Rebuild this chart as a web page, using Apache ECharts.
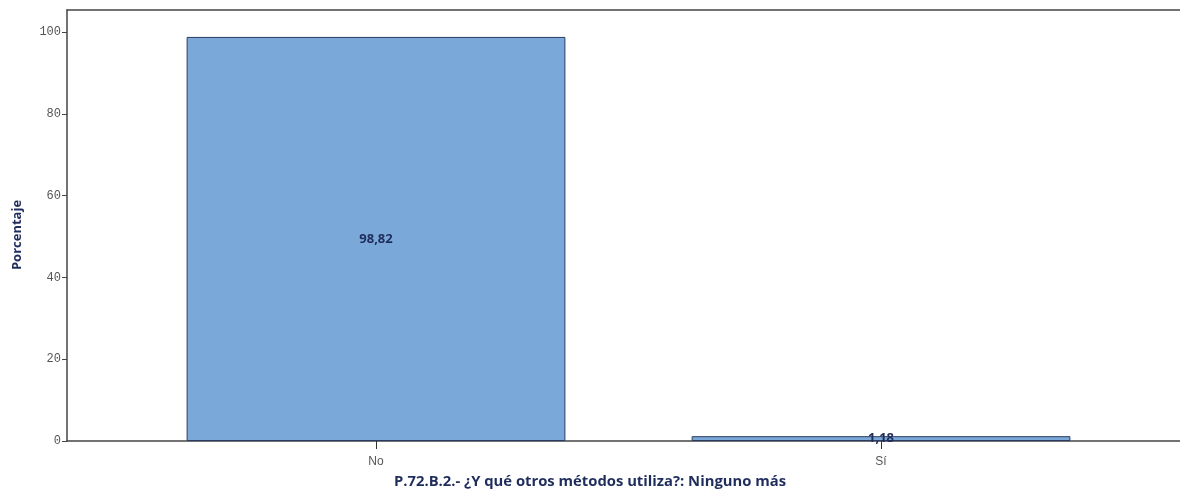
<!DOCTYPE html>
<html>
<head>
<meta charset="utf-8">
<script src="https://cdn.jsdelivr.net/npm/echarts@6/dist/echarts.min.js"></script>
<style>html,body{margin:0;padding:0;background:#fff;}#c{width:1180px;height:498px;}</style>
</head>
<body>
<div id="c"></div>
<script>
const categories = ['No', 'Sí'];
const values = [98.82, 1.18];
const valueLabels = ['98,82', '1,18'];
const yTickValues = [0, 20, 40, 60, 80, 100];
const yAxisTitle = 'Porcentaje';
const xAxisTitle = 'P.72.B.2.- ¿Y qué otros métodos utiliza?: Ninguno más';

const Y_MAX = 105.4;
const chart = echarts.init(document.getElementById('c'), null, {renderer: 'canvas'});
chart.setOption({
  animation: false,
  title: {
    text: xAxisTitle, left: 'center', top: 469,
    textStyle: {fontFamily: 'Open Sans', fontSize: 14.8, fontWeight: 'bold', color: '#1f2d5c'}
  },
  graphic: [{
    type: 'text', x: 17, y: 235, rotation: Math.PI / 2,
    style: {text: yAxisTitle, fontFamily: 'Open Sans', fontSize: 13, fontWeight: 'bold', fill: '#1f2d5c',
      align: 'center', verticalAlign: 'middle'},
    originX: 0, originY: 0
  }],
  grid: [
    {left: 67, right: -20, top: 10, bottom: 57, outerBoundsMode: 'none'},
    {left: 123.5, right: 46.5, top: 10, bottom: 57, outerBoundsMode: 'none'}
  ],
  xAxis: [
    {gridIndex: 0, type: 'value', min: 0, max: 1, position: 'bottom', axisLine: {show: true, lineStyle: {color: '#444', width: 1.5}}, axisTick: {show: false}, axisLabel: {show: false}, splitLine: {show: false}},
    {gridIndex: 1, type: 'category', data: categories, axisLine: {show: false},
     axisTick: {show: true, alignWithLabel: true, length: 8, lineStyle: {color: '#333'}},
     axisLabel: {color: '#555', fontFamily: 'Liberation Sans', fontSize: 12, margin: 15}},
    {gridIndex: 0, type: 'value', min: 0, max: 1, position: 'top', axisLine: {show: true, lineStyle: {color: '#444', width: 1.5}}, axisTick: {show: false}, axisLabel: {show: false}, splitLine: {show: false}}
  ],
  yAxis: [
    {gridIndex: 0, type: 'value', min: 0, max: Y_MAX, interval: 20,
     axisLine: {show: true, lineStyle: {color: '#444', width: 1.5}},
     axisTick: {show: true, length: 5, lineStyle: {color: '#444'}},
     axisLabel: {showMaxLabel: false, color: '#555', fontFamily: 'Liberation Mono', fontSize: 12, margin: 6,
       formatter: v => yTickValues.includes(v) ? String(v) : ''},
     splitLine: {show: false}},
    {gridIndex: 1, type: 'value', min: 0, max: Y_MAX, show: false, splitLine: {show: false}}
  ],
  series: [{
    type: 'bar', xAxisIndex: 1, yAxisIndex: 1, data: values, barWidth: '75%',
    itemStyle: {color: '#7aa8d8', borderColor: '#2b3b63', borderWidth: 1},
    label: {show: true, position: 'inside', formatter: p => valueLabels[p.dataIndex],
      color: '#1f2d5c', fontFamily: 'Open Sans', fontWeight: 'bold', fontSize: 13}
  }]
});
</script>
</body>
</html>
